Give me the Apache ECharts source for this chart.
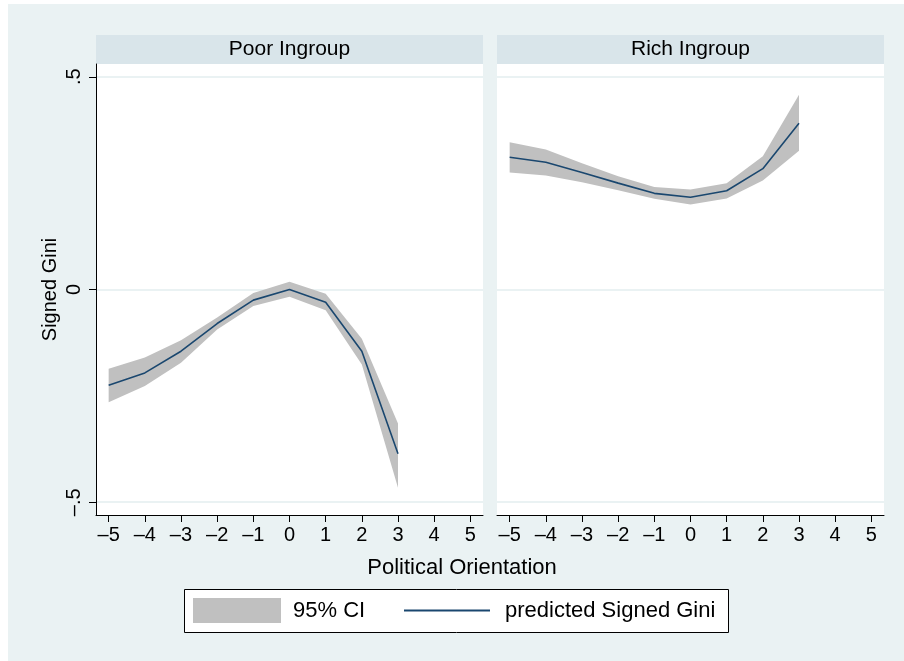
<!DOCTYPE html>
<html>
<head>
<meta charset="utf-8">
<script src="https://cdn.jsdelivr.net/npm/echarts@6/dist/echarts.min.js"></script>
<style>
  html, body { margin: 0; padding: 0; background: #ffffff; }
  #wrap { position: relative; width: 904px; height: 661px; background: #ffffff; }
  #backdrop { position: absolute; left: 8px; top: 4px; width: 896px; height: 657px; background: #eaf2f3; }
  #chart { position: absolute; left: 0; top: 0; width: 904px; height: 661px; }
</style>
</head>
<body>
<div id="wrap">
  <div id="backdrop"></div>
  <div id="chart"></div>
</div>
<script>
// Political orientation values at which predictions were made
const orientation = [-5, -4, -3, -2, -1, 0, 1, 2, 3];

// Poor ingroup: predicted Signed Gini with 95% CI bounds
const poorFit   = [-0.225, -0.196, -0.145, -0.080, -0.025, 0.000, -0.030, -0.145, -0.386];
const poorLower = [-0.265, -0.227, -0.172, -0.094, -0.039, -0.017, -0.049, -0.176, -0.466];
const poorUpper = [-0.186, -0.160, -0.119, -0.066, -0.008, 0.018, -0.010, -0.116, -0.315];

// Rich ingroup: predicted Signed Gini with 95% CI bounds
const richFit   = [0.311, 0.299, 0.275, 0.250, 0.226, 0.217, 0.232, 0.284, 0.391];
const richLower = [0.275, 0.268, 0.252, 0.233, 0.213, 0.200, 0.214, 0.256, 0.326];
const richUpper = [0.346, 0.329, 0.297, 0.266, 0.241, 0.235, 0.250, 0.313, 0.458];

// Axis ticks and panel titles
const xTicks = [-5, -4, -3, -2, -1, 0, 1, 2, 3, 4, 5];
const yTicks = [-0.5, 0, 0.5];
const panelTitles = ['Poor Ingroup', 'Rich Ingroup'];

const FONT = 'Liberation Sans, Arial, Helvetica, sans-serif';
const NAVY = '#1a476f';
const CI_GRAY = '#c0c0c0';
const GRID_LINE = '#eaf2f3';

const DASH = '\u2013';
function fmtX(v) { return v < 0 ? DASH + Math.abs(v) : String(v); }
function fmtY(v) {
  if (v === 0) return '0';
  const s = String(Math.abs(v)).replace(/^0/, '');
  return v < 0 ? DASH + s : s;
}

const panels = [
  { left: 96,  fit: poorFit, lower: poorLower, upper: poorUpper },
  { left: 497, fit: richFit, lower: richLower, upper: richUpper }
];
const PANEL_W = 387, PANEL_TOP = 64, PANEL_H = 451;

// Confidence band: one polygon running along the upper bound and back along the lower bound
function bandRenderer(lower, upper) {
  return function (params, api) {
    if (params.dataIndex !== 0) return null;
    const pts = [];
    for (let k = 0; k < orientation.length; k++) pts.push(api.coord([orientation[k], upper[k]]));
    for (let k = orientation.length - 1; k >= 0; k--) pts.push(api.coord([orientation[k], lower[k]]));
    return {
      type: 'polygon',
      shape: { points: pts },
      style: { fill: CI_GRAY, stroke: null }
    };
  };
}

const grids = [], xAxes = [], yAxes = [], series = [], graphics = [];

panels.forEach((p, i) => {
  grids.push({
    left: p.left, top: PANEL_TOP, width: PANEL_W, height: PANEL_H,
    show: true, backgroundColor: '#ffffff', borderWidth: 0
  });

  xAxes.push({
    type: 'value', gridIndex: i, min: -5.35, max: 5.35,
    axisLine: { show: true, onZero: false, lineStyle: { color: '#000', width: 1 } },
    axisTick: { show: true, customValues: xTicks, length: 7, lineStyle: { color: '#000', width: 1 } },
    axisLabel: {
      show: true, customValues: xTicks, formatter: fmtX, margin: 10,
      fontSize: 20, color: '#000', fontFamily: FONT
    },
    splitLine: { show: false }
  });

  yAxes.push({
    type: 'value', gridIndex: i, min: -0.53, max: 0.53,
    axisLine: { show: i === 0, onZero: false, lineStyle: { color: '#000', width: 1 } },
    axisTick: { show: i === 0, customValues: yTicks, length: 7, lineStyle: { color: '#000', width: 1 } },
    axisLabel: {
      show: i === 0, customValues: yTicks, formatter: fmtY, rotate: 90, margin: 12,
      fontSize: 20, color: '#000', fontFamily: FONT
    },
    splitLine: { show: true, lineStyle: { color: GRID_LINE, width: 2 } },
    name: i === 0 ? 'Signed Gini' : '',
    nameLocation: 'middle', nameRotate: 90, nameGap: 36,
    nameTextStyle: { fontSize: 20, color: '#000', fontFamily: FONT }
  });

  series.push({
    name: '95% CI', type: 'custom', xAxisIndex: i, yAxisIndex: i,
    silent: true, color: CI_GRAY, z: 2,
    renderItem: bandRenderer(p.lower, p.upper),
    encode: { x: 0, y: [1, 2] },
    data: orientation.map((x, k) => [x, p.lower[k], p.upper[k]])
  });
  series.push({
    name: 'predicted Signed Gini', type: 'line', xAxisIndex: i, yAxisIndex: i,
    symbol: 'none', showSymbol: false, color: NAVY, z: 5,
    lineStyle: { color: NAVY, width: 1.6 },
    data: orientation.map((x, k) => [x, p.fit[k]])
  });

  // Panel header strip
  graphics.push({
    type: 'rect', silent: true,
    shape: { x: p.left, y: 35, width: PANEL_W, height: 29 },
    style: { fill: '#d9e5ea' }
  });
  graphics.push({
    type: 'text', silent: true,
    x: p.left + PANEL_W / 2, y: 49.5,
    style: {
      text: panelTitles[i], fill: '#000', font: '21px ' + FONT,
      align: 'center', verticalAlign: 'middle'
    }
  });
});

// Shared x-axis title
graphics.push({
  type: 'text', silent: true, x: 462, y: 568,
  style: {
    text: 'Political Orientation', fill: '#000', font: '22px ' + FONT,
    align: 'center', verticalAlign: 'middle'
  }
});

// Legend frame
graphics.push({
  type: 'rect', silent: true, z: -1,
  shape: { x: 184.5, y: 589.5, width: 544, height: 43 },
  style: { fill: '#ffffff', stroke: '#000', lineWidth: 1 }
});

const legendText = { fontSize: 22, color: '#000', fontFamily: FONT, padding: [0, 0, 0, 7] };

const chart = echarts.init(document.getElementById('chart'), null, { renderer: 'canvas' });
chart.setOption({
  animation: false,
  grid: grids,
  xAxis: xAxes,
  yAxis: yAxes,
  series: series,
  graphic: graphics,
  legend: [
    {
      left: 193, top: 598, padding: 0,
      itemWidth: 88, itemHeight: 25, selectedMode: false,
      textStyle: legendText,
      data: [{ name: '95% CI', icon: 'rect', itemStyle: { color: CI_GRAY } }]
    },
    {
      left: 404, top: 599.5, padding: 0,
      itemWidth: 86, itemHeight: 2, selectedMode: false,
      textStyle: Object.assign({}, legendText, { padding: [0, 0, 0, 10] }),
      data: [{ name: 'predicted Signed Gini', icon: 'rect', itemStyle: { color: NAVY } }]
    }
  ]
});
</script>
</body>
</html>
